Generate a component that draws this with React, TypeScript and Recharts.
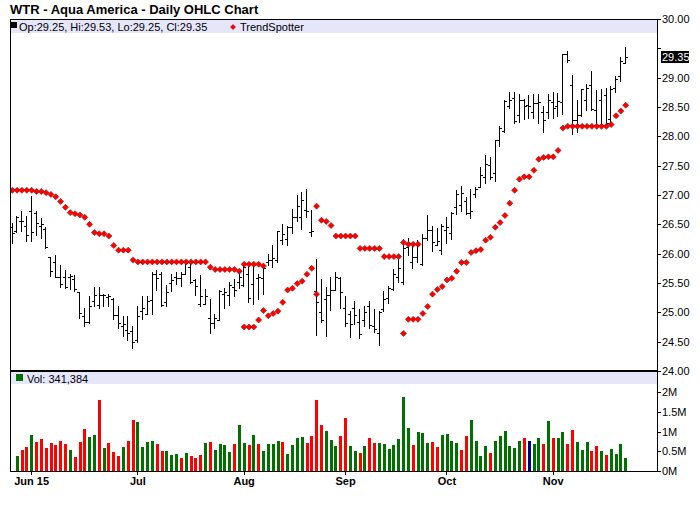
import React from 'react';
import { ComposedChart, Bar, Line, XAxis, YAxis } from 'recharts';

const FONT = '"Liberation Sans", Arial, Helvetica, sans-serif';

// session calendar: first bar of the window and the exchange holidays inside it
const FIRST_SESSION = '2015-05-26';
const HOLIDAYS = ['2015-07-03', '2015-09-07'];
const MONTHS = ['Jan', 'Feb', 'Mar', 'Apr', 'May', 'Jun', 'Jul', 'Aug', 'Sep', 'Oct', 'Nov', 'Dec'];

const opens = [
  26.45, 26.39, 26.56, 26.48, 26.72, 26.69, 26.47, 26.42, 25.94, 25.86,
  25.61, 25.61, 25.60, 25.56, 25.34, 24.93, 24.84, 25.20, 25.12, 25.30,
  25.26, 25.22, 24.95, 24.77, 24.70, 24.69, 24.53, 25.02, 24.98, 25.21,
  25.65, 25.65, 25.18, 25.50, 25.60, 25.58, 25.65, 25.78, 25.55, 25.15,
  25.15, 24.90, 24.81, 24.87, 25.32, 25.30, 25.44, 25.52, 25.47, 25.66,
  25.48, 25.58, 25.59, 25.85, 25.89, 25.89, 26.24, 26.25, 26.46, 26.63,
  26.63, 26.74, 26.37, 25.36, 25.00, 25.22, 25.30, 25.38, 25.58, 25.07,
  24.98, 25.07, 24.83, 24.87, 25.10, 24.76, 24.64, 25.05, 25.25, 25.39,
  25.61, 25.52, 26.12, 25.86, 25.94, 25.83, 26.26, 26.40, 26.15, 26.07,
  26.40, 26.36, 26.80, 26.83, 26.89, 26.70, 27.02, 27.14, 27.31, 27.51,
  27.37, 27.94, 28.09, 28.51, 28.66, 28.36, 28.62, 28.53, 28.42, 28.56,
  28.42, 28.42, 28.59, 28.51, 28.59, 29.40, 28.88, 28.28, 28.36, 28.62,
  28.87, 28.45, 28.62, 28.70, 28.30, 28.82, 29.03, 29.25,
];

const highs = [
  26.52, 26.64, 26.72, 26.64, 26.98, 26.73, 26.61, 26.46, 25.95, 25.97,
  25.80, 25.73, 25.65, 25.63, 25.34, 25.07, 25.28, 25.43, 25.44, 25.32,
  25.31, 25.24, 25.10, 24.93, 24.94, 24.77, 25.11, 25.28, 25.28, 25.68,
  25.73, 25.68, 25.47, 25.65, 25.69, 25.68, 25.90, 25.82, 25.56, 25.64,
  25.40, 25.23, 24.98, 25.38, 25.41, 25.52, 25.56, 25.72, 25.81, 25.84,
  25.84, 25.66, 25.75, 25.99, 26.14, 26.39, 26.50, 26.48, 26.76, 27.00,
  27.05, 27.10, 26.74, 25.91, 25.56, 25.43, 25.61, 25.68, 25.61, 25.28,
  25.03, 25.19, 25.06, 25.10, 25.19, 25.06, 25.02, 25.36, 25.45, 25.74,
  25.95, 26.25, 26.26, 26.16, 26.23, 26.34, 26.66, 26.47, 26.43, 26.51,
  26.62, 26.71, 27.08, 27.15, 26.97, 27.10, 27.13, 27.47, 27.68, 27.64,
  27.94, 28.18, 28.62, 28.76, 28.76, 28.73, 28.63, 28.70, 28.73, 28.73,
  28.52, 28.72, 28.75, 28.74, 29.40, 29.45, 29.05, 28.62, 28.80, 28.90,
  29.12, 28.79, 28.80, 28.83, 28.85, 29.03, 29.35, 29.53,
];

const lows = [
  26.18, 26.37, 26.38, 26.22, 26.22, 26.32, 26.26, 26.09, 25.62, 25.61,
  25.43, 25.41, 25.40, 25.37, 24.90, 24.76, 24.81, 25.10, 25.08, 25.10,
  25.10, 24.89, 24.73, 24.59, 24.53, 24.40, 24.50, 24.89, 24.97, 24.98,
  25.38, 25.10, 25.11, 25.36, 25.48, 25.45, 25.65, 25.50, 25.30, 25.11,
  25.15, 24.65, 24.73, 24.87, 25.08, 25.13, 25.27, 25.41, 25.45, 25.17,
  25.15, 25.23, 25.32, 25.81, 25.77, 25.86, 26.16, 26.14, 26.36, 26.56,
  26.42, 26.62, 26.30, 24.61, 24.84, 24.60, 25.04, 25.38, 25.07, 24.76,
  24.58, 24.80, 24.56, 24.76, 24.73, 24.67, 24.45, 25.02, 25.16, 25.38,
  25.52, 25.49, 25.98, 25.75, 25.86, 25.81, 26.24, 26.04, 26.14, 25.99,
  26.19, 26.25, 26.68, 26.72, 26.68, 26.61, 26.96, 27.13, 27.20, 27.28,
  27.24, 27.84, 28.08, 28.48, 28.22, 28.25, 28.30, 28.31, 28.32, 28.23,
  28.08, 28.31, 28.32, 28.34, 28.38, 29.27, 28.04, 28.08, 28.34, 28.45,
  28.45, 28.14, 28.14, 28.18, 28.25, 28.75, 28.95, 29.25,
];

const closes = [
  26.35, 26.62, 26.55, 26.32, 26.37, 26.53, 26.50, 26.11, 25.71, 25.61,
  25.48, 25.43, 25.62, 25.40, 24.99, 24.84, 25.11, 25.30, 25.30, 25.30,
  25.27, 24.95, 24.81, 24.80, 24.64, 24.50, 24.93, 25.07, 25.20, 25.65,
  25.58, 25.13, 25.35, 25.55, 25.58, 25.66, 25.84, 25.52, 25.45, 25.27,
  25.27, 24.82, 24.90, 25.36, 25.34, 25.47, 25.38, 25.60, 25.78, 25.24,
  25.82, 25.61, 25.75, 25.89, 25.92, 26.38, 26.33, 26.46, 26.63, 26.81,
  26.91, 26.73, 26.39, 25.18, 24.87, 25.30, 25.38, 25.61, 25.35, 24.81,
  24.80, 24.95, 24.63, 25.01, 24.78, 24.71, 25.00, 25.22, 25.42, 25.66,
  25.75, 26.10, 26.18, 25.94, 26.15, 26.26, 26.40, 26.20, 26.21, 26.48,
  26.45, 26.69, 27.01, 27.03, 26.69, 26.72, 27.10, 27.34, 27.53, 27.31,
  27.93, 28.15, 28.60, 28.62, 28.26, 28.62, 28.52, 28.52, 28.56, 28.59,
  28.28, 28.62, 28.48, 28.60, 29.40, 29.30, 28.28, 28.36, 28.80, 28.82,
  28.46, 28.20, 28.19, 28.22, 28.80, 28.98, 29.28, 29.35,
];

const volumes = [
  null, 380000, 530000, 610000, 920000, 740000, 810000, 580000, 710000, 660000,
  760000, 690000, 530000, 360000, 740000, 1070000, 860000, 920000, 1810000, 580000,
  710000, 480000, 380000, 610000, 760000, 1300000, 1250000, 610000, 740000, 760000,
  690000, 510000, 510000, 410000, 430000, 330000, 460000, 380000, 330000, 410000,
  710000, 740000, 530000, 690000, 660000, 480000, 690000, 1170000, 710000, 660000,
  920000, 690000, 510000, 690000, 690000, 760000, 740000, 430000, 660000, 840000,
  860000, 710000, 890000, 1810000, 1170000, 1020000, 790000, 640000, 890000, 1350000,
  640000, 520000, 460000, 640000, 840000, 710000, 710000, 690000, 560000, 660000,
  810000, 1880000, 1090000, 660000, 990000, 970000, 710000, 740000, 610000, 920000,
  940000, 760000, 710000, 530000, 890000, 1300000, 760000, 380000, 640000, 460000,
  760000, 890000, 1020000, 640000, 580000, 760000, 840000, 760000, 690000, 840000,
  690000, 1270000, 840000, 840000, 990000, 690000, 1040000, 740000, 530000, 740000,
  510000, 640000, 510000, 410000, 560000, 430000, 690000, 341384,
];

// g = up day, r = down day, n = unchanged, - = no volume bar
const volumeDirs = (
  '-grrgrrrrr' + 'rrgrrrggrg' + 'rrrgrrgggg' + 'rrgggrgrrr' + 'grggggrggr' +
  'grggggrggg' + 'grrrrgggrr' + 'ggrgrrgggg' + 'gggrgggrrg' + 'gggrrggggr' +
  'ggggggrngg' + 'rgrggrrggg' + 'rrgrgggg'
).split('');

const none = (n: number) => Array(n).fill(null);

// TrendSpotter stop, plotted above and below price
const trendAbove = [
  27.08, 27.08, 27.08, 27.08, 27.08, 27.06, 27.06, 27.04, 27.01, 26.97,
  26.89, 26.79, 26.70, 26.68, 26.66, 26.62, 26.50, 26.36, 26.34, 26.34,
  26.30, 26.14, 26.06, 26.06, 26.06, 25.89, 25.86, 25.86, 25.86, 25.86,
  25.86, 25.86, 25.86, 25.86, 25.86, 25.86, 25.86, 25.86, 25.86, 25.86,
  25.86, 25.77, 25.73, 25.73, 25.73, 25.73, 25.73, 25.70, 25.82, 25.82,
  25.82, 25.82, 25.79, ...none(10),
  26.81, 26.57, 26.55, 26.48, 26.30, 26.30, 26.30,
  26.30, 26.30, 26.09, 26.09, 26.09, 26.09, 26.09, 25.95, 25.95, 25.95,
  25.95, 26.19, 26.16, 26.16, 26.16, ...none(43),
];

const trendBelow = [
  ...none(48),
  24.75, 24.75, 24.75, 24.87, 25.03, 24.94, 24.98, 25.02, 25.17, 25.38,
  25.41, 25.49, 25.53, 25.65, 25.75, 25.31,
  ...none(17),
  24.64, 24.88, 24.88, 24.88, 24.98, 25.10, 25.31, 25.39, 25.44, 25.55,
  25.58, 25.70, 25.85, 25.85, 26.02, 26.05, 26.07, 26.23, 26.28, 26.45,
  26.53, 26.65, 26.86, 27.08, 27.27, 27.31, 27.31, 27.42, 27.61, 27.64,
  27.65, 27.65, 27.76, 28.14, 28.17, 28.17, 28.17, 28.17, 28.17, 28.17,
  28.17, 28.17, 28.17, 28.20, 28.35, 28.43, 28.53,
];

const priceTicks = [24, 24.5, 25, 25.5, 26, 26.5, 27, 27.5, 28, 28.5, 29, 29.5, 30];
const volumeTicks = [0, 500000, 1000000, 1500000, 2000000];

function tradingDays(first: string, count: number, holidays: string[]) {
  const out: string[] = [];
  let t = Date.parse(first + 'T00:00:00Z');
  while (out.length < count) {
    const d = new Date(t);
    const iso = d.toISOString().slice(0, 10);
    const wd = d.getUTCDay();
    if (wd !== 0 && wd !== 6 && !holidays.includes(iso)) out.push(iso);
    t += 86400000;
  }
  return out;
}

const days = tradingDays(FIRST_SESSION, closes.length, HOLIDAYS);

const rows = closes.map((close, i) => ({
  i,
  date: days[i],
  open: opens[i],
  high: highs[i],
  low: lows[i],
  close,
  range: [lows[i], highs[i]],
  volume: volumes[i],
  dir: volumeDirs[i],
  stopAbove: trendAbove[i],
  stopBelow: trendBelow[i],
}));

const monthTicks = rows
  .filter((r, k) => k > 0 && r.date.slice(5, 7) !== rows[k - 1].date.slice(5, 7))
  .map((r) => r.i);

const monthLabel = (i: number) => {
  const d = days[i];
  const m = MONTHS[Number(d.slice(5, 7)) - 1];
  return i === monthTicks[0] ? `${m} ${d.slice(2, 4)}` : m;
};

const last = rows[rows.length - 1];
const X_DOMAIN: [number, number] = [-0.27, 133.48];

const volColor = (dir: string) =>
  dir === 'g' ? '#007000' : dir === 'r' ? '#ff0000' : '#000080';

const OhlcBar = (props: any) => {
  const { x, y, width, height, payload } = props;
  if (!payload || x == null || y == null) return <g />;
  const top = Math.min(y, y + height);
  const bottom = Math.max(y, y + height);
  const span = payload.high - payload.low;
  const at = (v: number) => (span > 0 ? top + ((payload.high - v) / span) * (bottom - top) : top);
  const px = Math.floor(x + width / 2);
  const t = Math.round(top);
  const b = Math.round(bottom);
  return (
    <g fill="#000" shapeRendering="crispEdges">
      <rect x={px} y={t} width={1} height={Math.max(1, b - t + 1)} />
      <rect x={px - 2} y={Math.round(at(payload.open))} width={2} height={1} />
      <rect x={px + 1} y={Math.round(at(payload.close))} width={2} height={1} />
    </g>
  );
};

const VolumeBar = (props: any) => {
  const { x, y, width, height, payload } = props;
  if (!payload || payload.volume == null) return <g />;
  const t = Math.round(y);
  const b = Math.round(y + height);
  return (
    <rect
      x={Math.round(x)}
      y={t}
      width={Math.round(width)}
      height={Math.max(0, b - t)}
      fill={volColor(payload.dir)}
      shapeRendering="crispEdges"
    />
  );
};

const diamond = (cx: number, cy: number, r: number) =>
  `M${cx},${cy - r}L${cx + r},${cy}L${cx},${cy + r}L${cx - r},${cy}Z`;

const TrendDot = (props: any) => {
  const { cx, cy, index, value } = props;
  if (value == null || cx == null || cy == null || Number.isNaN(cy)) return <g key={`td-${index}`} />;
  return (
    <path key={`td-${index}`} d={diamond(cx, cy, 3)} fill="#ff0000" stroke="#a00000" strokeWidth={0.6} />
  );
};

const PriceTick = (props: any) => {
  const { x, y, payload } = props;
  const v = payload.value as number;
  if (v === last.close) {
    return (
      <g>
        <rect x={x - 1} y={Math.round(y) - 6} width={28} height={12} fill="#000" />
        <text x={x} y={y} dy="0.355em" fill="#fff" fontSize={11} fontFamily={FONT}>
          {v.toFixed(2)}
        </text>
      </g>
    );
  }
  const hideLabel = Math.abs(v - last.close) < 0.25;
  return (
    <g>
      <rect x={x - 5} y={Math.round(y)} width={4} height={1} fill="#000" shapeRendering="crispEdges" />
      {!hideLabel && (
        <text x={x} y={y} dy="0.355em" fill="#000" fontSize={11} fontFamily={FONT}>
          {v.toFixed(2)}
        </text>
      )}
    </g>
  );
};

const VolumeTick = (props: any) => {
  const { x, y, payload } = props;
  const v = payload.value as number;
  return (
    <g>
      <rect x={x - 5} y={Math.round(y)} width={4} height={1} fill="#000" shapeRendering="crispEdges" />
      <text x={x} y={y} dy="0.355em" fill="#000" fontSize={11} fontFamily={FONT}>
        {`${v / 1e6}M`}
      </text>
    </g>
  );
};

const MonthTick = (props: any) => {
  const { x, y, payload } = props;
  return (
    <g>
      <rect x={Math.floor(x)} y={y - 6} width={1} height={4} fill="#000" shapeRendering="crispEdges" />
      <text x={x} y={y} dy="0.71em" textAnchor="middle" fill="#000" fontSize={11} fontWeight="bold" fontFamily={FONT}>
        {monthLabel(payload.value)}
      </text>
    </g>
  );
};

export default function App() {
  const legendText = `Op:${last.open.toFixed(2)}, Hi:${last.high.toFixed(2)}, Lo:${last.low.toFixed(2)}, Cl:${last.close.toFixed(2)}`;
  return (
    <div style={{ position: 'absolute', left: 0, top: 0, width: 700, height: 512, background: '#fff', fontFamily: FONT }}>
      <svg width={700} height={512} style={{ position: 'absolute', left: 0, top: 0 }}>
        <text x={10} y={13.5} fontSize={13} fontWeight="bold" fill="#000" fontFamily={FONT}>
          WTR - Aqua America - Daily OHLC Chart
        </text>
        <rect x={11} y={20} width={646} height={13} fill="#e6e6fa" />
        <rect x={11} y={372} width={646} height={12} fill="#e6e6fa" />
        <rect x={11} y={22} width={6} height={6} fill="#000" />
        <text x={19} y={31} fontSize={11} fill="#000" fontFamily={FONT}>{legendText}</text>
        <path d={diamond(233, 27, 2.5)} fill="#ff0000" stroke="#a00000" strokeWidth={0.6} />
        <text x={240} y={31} fontSize={11} fill="#000" fontFamily={FONT}>TrendSpotter</text>
        <rect x={16} y={374} width={7} height={7} fill="#007000" />
        <text x={27} y={382.5} fontSize={11} fill="#000" fontFamily={FONT}>
          {`Vol: ${(last.volume as number).toLocaleString('en-US')}`}
        </text>
      </svg>

      <div style={{ position: 'absolute', left: 0, top: 0 }}>
        <ComposedChart width={700} height={380} data={rows} margin={{ top: 19, right: 0, bottom: 9, left: 11 }}>
          <XAxis dataKey="i" type="number" domain={X_DOMAIN} allowDataOverflow hide />
          <YAxis
            orientation="right"
            width={43}
            type="number"
            domain={[24, 30]}
            allowDataOverflow
            ticks={[...priceTicks, last.close]}
            interval={0}
            tickSize={3}
            tickMargin={2}
            tickLine={false}
            axisLine={false}
            tick={<PriceTick />}
          />
          <Bar dataKey="range" barSize={5} shape={(p: any) => <OhlcBar {...p} />} isAnimationActive={false} />
          <Line
            dataKey="stopAbove"
            stroke="none"
            dot={(p: any) => <TrendDot {...p} />}
            activeDot={false}
            connectNulls={false}
            isAnimationActive={false}
          />
          <Line
            dataKey="stopBelow"
            stroke="none"
            dot={(p: any) => <TrendDot {...p} />}
            activeDot={false}
            connectNulls={false}
            isAnimationActive={false}
          />
        </ComposedChart>
      </div>

      <div style={{ position: 'absolute', left: 0, top: 371 }}>
        <ComposedChart width={700} height={141} data={rows} margin={{ top: 1, right: 0, bottom: 0, left: 11 }}>
          <XAxis
            dataKey="i"
            type="number"
            domain={X_DOMAIN}
            allowDataOverflow
            ticks={monthTicks}
            interval={0}
            height={41}
            tickSize={4}
            tickMargin={2}
            tickLine={false}
            axisLine={false}
            tick={<MonthTick />}
          />
          <YAxis
            orientation="right"
            width={43}
            type="number"
            domain={[0, 2520000]}
            allowDataOverflow
            ticks={volumeTicks}
            interval={0}
            tickSize={3}
            tickMargin={2}
            tickLine={false}
            axisLine={false}
            tick={<VolumeTick />}
          />
          <Bar dataKey="volume" barSize={3} shape={(p: any) => <VolumeBar {...p} />} isAnimationActive={false} />
        </ComposedChart>
      </div>

      <svg width={700} height={512} style={{ position: 'absolute', left: 0, top: 0, pointerEvents: 'none' }}>
        <g fill="#000" shapeRendering="crispEdges">
          <rect x={10} y={19} width={648} height={1} />
          <rect x={10} y={19} width={1} height={453} />
          <rect x={657} y={19} width={1} height={453} />
          <rect x={10} y={370} width={648} height={2} />
          <rect x={10} y={471} width={648} height={1} />
        </g>
      </svg>
    </div>
  );
}
